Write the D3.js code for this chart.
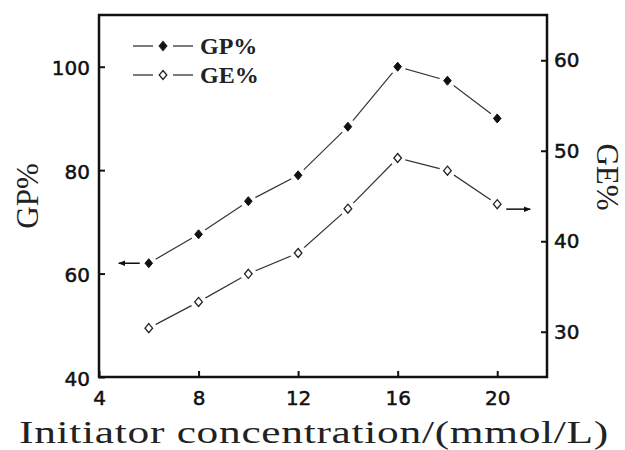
<!DOCTYPE html>
<html>
<head>
<meta charset="utf-8">
<script src="https://cdn.jsdelivr.net/npm/d3@7"></script>
<style>
  body { margin: 0; background: #fff; }
  .tick text { font-family: "DejaVu Sans", sans-serif; font-size: 20px; fill: #111; stroke: #111; stroke-width: 0.5px; }
</style>
</head>
<body>
<script>
var conc = [6, 8, 10, 12, 14, 16, 18, 20];
var gp = [62, 67.6, 74, 79, 88.4, 100, 97.3, 90];
var ge = [30.4, 33.3, 36.4, 38.7, 43.6, 49.2, 47.8, 44.1];
var xTicks = [4, 8, 12, 16, 20];
var gpTicks = [40, 60, 80, 100];
var geTicks = [30, 40, 50, 60];

var w = 625, h = 450;
var m = {left: 99, right: 78, top: 15, bottom: 73};

var svg = d3.select("body").append("svg")
    .attr("width", w)
    .attr("height", h);

var x = d3.scaleLinear().domain([4, 22]).range([m.left, w - m.right]);
var yL = d3.scaleLinear().domain([40, 110]).range([h - m.bottom, m.top]);
var yR = d3.scaleLinear().domain([25, 65]).range([h - m.bottom, m.top]);

// frame
svg.append("rect")
    .attr("x", m.left).attr("y", m.top)
    .attr("width", w - m.left - m.right)
    .attr("height", h - m.top - m.bottom)
    .attr("fill", "none").attr("stroke", "#111").attr("stroke-width", 2.5);

var xAxis = svg.append("g")
    .attr("transform", "translate(0," + (h - m.bottom) + ")")
    .call(d3.axisBottom(x).tickValues(xTicks).tickSizeInner(-6).tickSizeOuter(0).tickPadding(14));

var lAxis = svg.append("g")
    .attr("transform", "translate(" + m.left + ",0)")
    .call(d3.axisLeft(yL).tickValues(gpTicks).tickSizeInner(-6).tickSizeOuter(0).tickPadding(9));

var rAxis = svg.append("g")
    .attr("transform", "translate(" + (w - m.right) + ",0)")
    .call(d3.axisRight(yR).tickValues(geTicks).tickSizeInner(-6).tickSizeOuter(0).tickPadding(7));

[xAxis, lAxis, rAxis].forEach(function (a) {
    a.select(".domain").remove();
    a.selectAll(".tick line").attr("stroke", "#111").attr("stroke-width", 2);
});
lAxis.selectAll(".tick text").attr("dy", "0.4em");

// series
var lineGP = d3.line().x(function (d, i) { return x(conc[i]); }).y(function (d) { return yL(d); });
var lineGE = d3.line().x(function (d, i) { return x(conc[i]); }).y(function (d) { return yR(d); });

svg.append("path").attr("d", lineGP(gp))
    .attr("fill", "none").attr("stroke", "#333").attr("stroke-width", 1.2);
svg.append("path").attr("d", lineGE(ge))
    .attr("fill", "none").attr("stroke", "#333").attr("stroke-width", 1.2);

// gaps around markers
svg.selectAll(".gapGP").data(gp).enter().append("circle")
    .attr("cx", function (d, i) { return x(conc[i]); })
    .attr("cy", function (d) { return yL(d); })
    .attr("r", 8).attr("fill", "#fff");
svg.selectAll(".gapGE").data(ge).enter().append("circle")
    .attr("cx", function (d, i) { return x(conc[i]); })
    .attr("cy", function (d) { return yR(d); })
    .attr("r", 8).attr("fill", "#fff");

var diamond = "M0,-4.5L3.8,0L0,4.5L-3.8,0Z";

svg.selectAll(".ptGP").data(gp).enter().append("path")
    .attr("d", diamond)
    .attr("transform", function (d, i) { return "translate(" + x(conc[i]) + "," + yL(d) + ")"; })
    .attr("fill", "#111").attr("stroke", "#111").attr("stroke-width", 1);

svg.selectAll(".ptGE").data(ge).enter().append("path")
    .attr("d", diamond)
    .attr("transform", function (d, i) { return "translate(" + x(conc[i]) + "," + yR(d) + ")"; })
    .attr("fill", "#fff").attr("stroke", "#222").attr("stroke-width", 1.3);

// arrows pointing to axes
svg.append("defs").append("marker")
    .attr("id", "arr").attr("viewBox", "0 0 10 10")
    .attr("refX", 9).attr("refY", 5)
    .attr("markerWidth", 7).attr("markerHeight", 7)
    .attr("markerUnits", "userSpaceOnUse")
    .attr("orient", "auto")
    .append("path").attr("d", "M0,1L10,5L0,9Z").attr("fill", "#111");

svg.append("line")
    .attr("x1", x(conc[0]) - 9).attr("x2", x(conc[0]) - 30)
    .attr("y1", yL(gp[0])).attr("y2", yL(gp[0]))
    .attr("stroke", "#111").attr("stroke-width", 1.5).attr("marker-end", "url(#arr)");

var last = conc.length - 1;
svg.append("line")
    .attr("x1", x(conc[last]) + 9).attr("x2", x(conc[last]) + 33)
    .attr("y1", yR(ge[last]) + 5).attr("y2", yR(ge[last]) + 5)
    .attr("stroke", "#111").attr("stroke-width", 1.5).attr("marker-end", "url(#arr)");

// legend
var legend = [{name: "GP%", fill: "#111"}, {name: "GE%", fill: "#fff"}];
var lg = svg.selectAll(".lg").data(legend).enter().append("g")
    .attr("transform", function (d, i) { return "translate(133," + (46 + i * 29) + ")"; });
lg.append("line").attr("x1", 0).attr("x2", 20).attr("stroke", "#333").attr("stroke-width", 1.3);
lg.append("line").attr("x1", 40).attr("x2", 60).attr("stroke", "#333").attr("stroke-width", 1.3);
lg.append("path").attr("d", diamond)
    .attr("transform", "translate(30,0)")
    .attr("fill", function (d) { return d.fill; })
    .attr("stroke", "#222").attr("stroke-width", 1.3);
lg.append("text")
    .attr("x", 67).attr("y", 8)
    .attr("font-family", "Liberation Serif, serif")
    .attr("font-size", 24).attr("font-weight", "bold")
    .attr("fill", "#222")
    .text(function (d) { return d.name; });

// axis titles
svg.append("text")
    .attr("transform", "translate(314,443) scale(1.4,1)")
    .attr("text-anchor", "middle")
    .attr("font-family", "Liberation Serif, serif")
    .attr("font-size", 31)
    .attr("letter-spacing", 0.5)
    .attr("fill", "#222")
    .text("Initiator concentration/(mmol/L)");

svg.append("text")
    .attr("transform", "translate(38,196) rotate(-90)")
    .attr("text-anchor", "middle")
    .attr("font-family", "Liberation Serif, serif")
    .attr("font-size", 31)
    .attr("fill", "#222")
    .text("GP%");

svg.append("text")
    .attr("transform", "translate(597,177) rotate(90)")
    .attr("text-anchor", "middle")
    .attr("font-family", "Liberation Serif, serif")
    .attr("font-size", 31)
    .attr("fill", "#222")
    .text("GE%");
</script>
</body>
</html>
